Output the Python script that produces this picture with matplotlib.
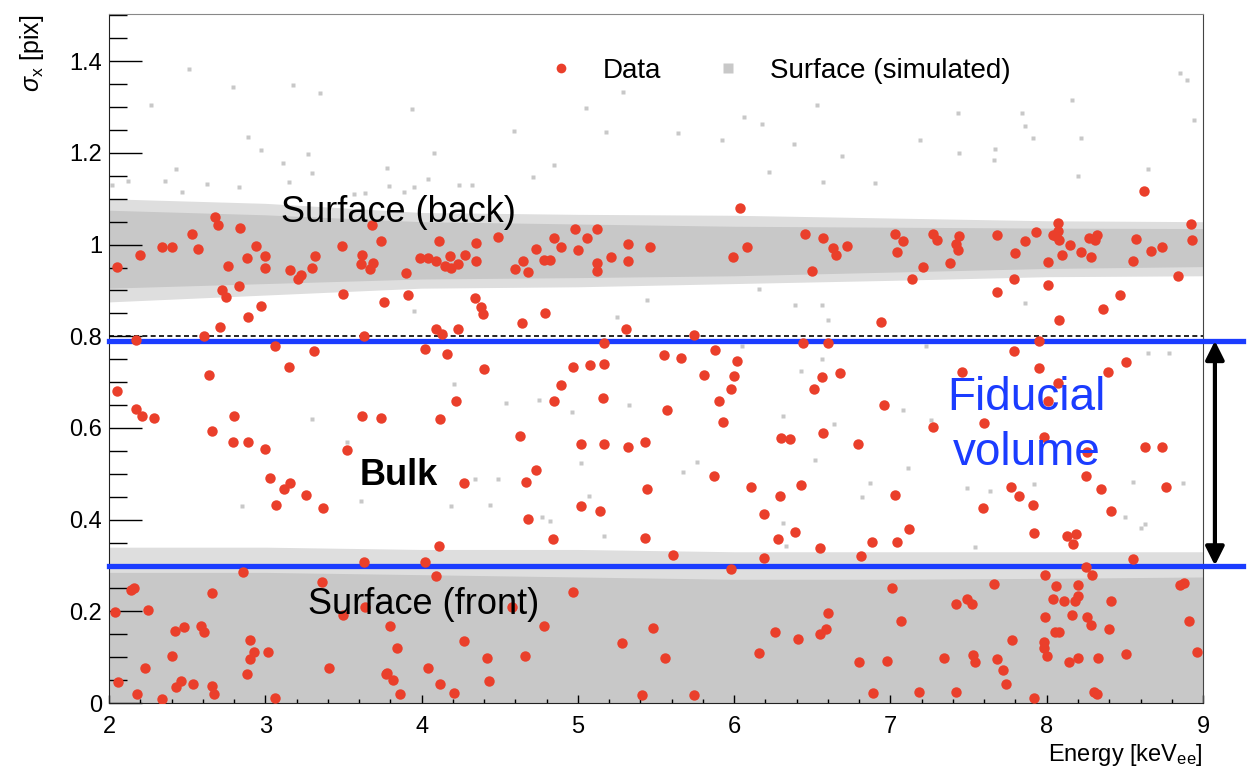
import matplotlib
matplotlib.use('Agg')
import matplotlib.pyplot as plt
from matplotlib.ticker import MultipleLocator
import numpy as np

plt.rcParams['font.family'] = ['Liberation Sans', 'DejaVu Sans']
plt.rcParams['mathtext.fontset'] = 'custom'
plt.rcParams['mathtext.rm'] = 'Liberation Sans'
plt.rcParams['mathtext.it'] = 'Liberation Sans:italic'

# red points: measured clusters (energy keV_ee, sigma_x pix)
data_E = [
    2.05, 2.20, 2.34, 2.40, 2.53, 2.68, 2.70, 2.84, 2.57, 2.94, 3.00, 2.88, 2.76, 3.00, 3.16, 3.21, 3.23,
    3.30, 3.32, 3.49, 3.62, 3.61, 3.69, 3.67, 3.68, 3.74, 3.76, 3.50, 2.83, 2.72, 2.75, 2.97, 2.89, 2.71,
    2.61, 2.17, 3.63, 3.06, 3.31, 3.15, 2.64, 2.05, 2.17, 2.21, 2.29, 2.80, 2.66, 3.62, 3.74,
    2.79, 2.89, 3.00, 3.52, 3.03, 3.12, 3.16, 3.07, 3.26, 3.37, 3.63, 2.86, 2.14, 2.16, 2.66, 3.36, 2.04,
    2.25, 3.50, 3.64, 2.42, 2.48, 2.59, 2.61, 2.90, 2.93, 2.90, 3.02, 2.40, 2.23, 3.41, 2.88, 3.77, 2.06,
    2.46, 2.43, 2.54, 2.66, 2.67, 2.18, 2.34, 3.06,
    3.90, 3.99, 4.04, 4.09, 4.11, 4.15, 4.18, 4.19, 4.23, 4.28, 4.35, 4.35, 4.49, 4.60, 4.65, 4.68, 4.73,
    4.78, 4.82, 4.85, 4.89, 4.98, 5.00, 5.06, 5.12, 5.12, 5.12, 5.21, 5.32, 5.32, 5.46, 3.91, 4.34, 4.38,
    4.39, 4.79, 4.64, 4.09, 4.13, 4.23, 5.31, 5.17, 4.02, 4.16, 4.40, 4.97, 5.08, 5.17, 5.55, 4.89, 4.85,
    5.16, 4.22, 5.57, 4.12, 4.63, 5.02, 5.17, 5.32, 5.43,
    4.73, 4.67, 4.27, 5.44, 5.02, 5.14, 4.68, 4.84, 5.43, 4.11, 4.02, 4.09, 4.97, 4.58, 3.80, 4.78, 5.48,
    4.27, 5.28, 3.84, 4.42, 4.66, 5.56, 4.04, 3.78, 3.82, 4.12, 4.43, 3.86, 4.21, 5.41,
    6.04, 5.99, 6.08, 6.45, 6.57, 6.63, 6.65, 6.72, 6.50, 7.03, 7.08, 7.04, 7.27, 7.30, 7.21, 7.14, 7.38,
    6.94, 5.74, 6.44, 6.60, 5.66, 5.88, 6.02, 5.81, 6.00, 5.98, 6.56, 6.68, 6.51, 5.90, 5.93, 6.96, 7.27,
    6.30, 6.36, 6.57, 6.79,
    5.87, 6.11, 6.29, 6.43, 6.19, 6.39, 6.28, 6.55, 7.03, 7.12, 6.88, 7.04, 6.81, 5.61, 6.19, 5.98, 7.01,
    6.60, 7.07, 6.26, 6.41, 6.55, 6.59, 6.16, 6.80, 6.98, 7.34, 5.74, 6.89, 7.18,
    7.44, 7.42, 7.43, 7.68, 7.80, 7.86, 7.93, 8.01, 8.07, 8.07, 8.04, 8.08, 8.06, 8.10, 8.15, 8.22, 8.27,
    8.31, 8.32, 8.28, 8.55, 8.57, 8.67, 8.74, 8.92, 8.93, 8.84, 8.62, 7.79, 7.68, 8.01, 8.47, 8.36, 8.08,
    7.95, 7.79, 7.95, 8.51, 8.39, 7.46, 8.07, 8.01, 7.60, 7.98, 8.63, 8.74,
    8.26, 8.25, 8.35, 8.76, 8.41, 7.77, 7.82, 7.59, 7.91, 7.92, 8.13, 8.19, 8.17, 8.55, 7.99, 8.25, 8.29,
    7.66, 8.06, 8.20, 8.85, 8.88, 7.42, 7.49, 7.52, 8.04, 8.11, 8.18, 8.20, 8.41, 8.16, 7.99, 8.26, 8.28,
    8.91, 8.05, 8.08, 8.40, 7.78, 7.98, 7.98, 8.00, 8.96, 7.53, 7.54, 7.68, 7.72, 7.74, 8.14, 8.20, 8.33,
    8.51, 7.42, 7.92, 8.30, 8.32,
]
data_sigma = [
    0.951, 0.978, 0.995, 0.995, 1.023, 1.060, 1.043, 1.037, 0.991, 0.998, 0.975, 0.970, 0.953, 0.950, 0.945, 0.925, 0.933,
    0.950, 0.975, 0.998, 0.977, 0.957, 0.960, 0.947, 1.042, 1.007, 0.875, 0.892, 0.909, 0.901, 0.886, 0.865, 0.842, 0.820,
    0.801, 0.793, 0.801, 0.778, 0.767, 0.733, 0.716, 0.680, 0.641, 0.627, 0.622, 0.627, 0.594, 0.627, 0.622,
    0.569, 0.569, 0.554, 0.552, 0.491, 0.467, 0.480, 0.433, 0.454, 0.426, 0.307, 0.286, 0.246, 0.251, 0.241, 0.263, 0.199,
    0.202, 0.192, 0.209, 0.157, 0.165, 0.169, 0.154, 0.137, 0.112, 0.096, 0.112, 0.103, 0.076, 0.076, 0.064, 0.064, 0.045,
    0.049, 0.034, 0.041, 0.038, 0.020, 0.020, 0.009, 0.012,
    0.939, 0.970, 0.970, 0.964, 1.007, 0.953, 0.976, 0.949, 0.957, 0.978, 1.004, 0.965, 1.017, 0.946, 0.965, 0.940, 0.991,
    0.966, 0.967, 1.015, 0.995, 1.034, 0.988, 1.014, 1.034, 0.960, 0.942, 0.973, 1.001, 0.965, 0.995, 0.890, 0.884, 0.864,
    0.848, 0.850, 0.828, 0.815, 0.804, 0.815, 0.815, 0.786, 0.772, 0.762, 0.728, 0.733, 0.737, 0.739, 0.759, 0.694, 0.658,
    0.665, 0.658, 0.640, 0.620, 0.583, 0.565, 0.565, 0.558, 0.569,
    0.509, 0.482, 0.480, 0.467, 0.429, 0.419, 0.402, 0.357, 0.360, 0.343, 0.308, 0.277, 0.243, 0.210, 0.167, 0.167, 0.164,
    0.135, 0.132, 0.120, 0.098, 0.103, 0.098, 0.076, 0.065, 0.051, 0.042, 0.049, 0.020, 0.022, 0.017,
    1.079, 0.972, 0.995, 1.023, 1.014, 0.993, 0.977, 0.998, 0.942, 1.023, 1.007, 0.984, 1.023, 1.011, 0.951, 0.926, 0.960,
    0.831, 0.802, 0.786, 0.786, 0.752, 0.770, 0.746, 0.716, 0.714, 0.686, 0.712, 0.720, 0.686, 0.658, 0.614, 0.650, 0.603,
    0.578, 0.575, 0.588, 0.564,
    0.496, 0.471, 0.452, 0.475, 0.413, 0.373, 0.357, 0.338, 0.454, 0.379, 0.352, 0.352, 0.321, 0.324, 0.317, 0.292, 0.252,
    0.196, 0.179, 0.154, 0.140, 0.151, 0.162, 0.109, 0.089, 0.092, 0.098, 0.018, 0.022, 0.025,
    1.018, 1.002, 0.989, 1.020, 0.982, 1.007, 1.027, 0.962, 1.047, 1.029, 1.022, 1.009, 1.018, 0.978, 1.000, 0.984, 1.015,
    1.011, 1.020, 0.972, 0.965, 1.012, 0.987, 0.995, 1.046, 1.009, 0.931, 1.118, 0.926, 0.897, 0.911, 0.889, 0.859, 0.835,
    0.790, 0.767, 0.730, 0.744, 0.723, 0.723, 0.698, 0.659, 0.611, 0.580, 0.559, 0.559,
    0.547, 0.496, 0.467, 0.471, 0.418, 0.471, 0.452, 0.426, 0.433, 0.371, 0.365, 0.368, 0.346, 0.314, 0.279, 0.297, 0.279,
    0.259, 0.255, 0.257, 0.257, 0.262, 0.216, 0.226, 0.216, 0.228, 0.223, 0.223, 0.233, 0.223, 0.193, 0.187, 0.188, 0.170,
    0.179, 0.156, 0.156, 0.162, 0.138, 0.133, 0.120, 0.102, 0.112, 0.104, 0.089, 0.096, 0.072, 0.042, 0.089, 0.098, 0.098,
    0.107, 0.025, 0.012, 0.025, 0.020,
]

# simulated surface events: dense band edges
band_E = [2, 3, 4, 5, 6, 7, 8, 9]
back_core_top = [1.075, 1.065, 1.050, 1.045, 1.040, 1.038, 1.036, 1.035]
back_core_bot = [0.905, 0.915, 0.925, 0.928, 0.932, 0.940, 0.948, 0.952]
back_edge_top = [1.100, 1.090, 1.070, 1.066, 1.064, 1.058, 1.052, 1.050]
back_edge_bot = [0.875, 0.890, 0.905, 0.908, 0.915, 0.922, 0.930, 0.932]
front_core_top = [0.285, 0.285, 0.280, 0.275, 0.270, 0.270, 0.272, 0.275]
front_edge_top = [0.340, 0.340, 0.335, 0.335, 0.330, 0.330, 0.330, 0.330]

# sparse simulated events outside the bands
sim_E = [
    2.51, 2.27, 2.79, 2.89, 2.43, 2.36, 2.12, 2.63, 2.47, 2.83, 2.02, 3.18, 3.35, 3.94, 4.59, 2.97, 3.27, 3.11,
    4.08, 3.30, 3.15, 3.78, 3.79, 4.04, 3.95, 4.24, 4.32, 4.71, 3.57, 3.64, 3.89, 5.29, 5.05, 5.18, 4.85, 5.64,
    5.92, 6.06, 6.18, 6.53, 6.38, 6.69, 7.19, 7.43, 7.44, 7.67, 7.84, 7.86, 7.91, 8.16, 8.22, 8.85, 8.90, 8.94,
    6.22, 6.57, 6.90, 7.66, 8.20, 8.65,
    2.85, 3.61, 3.30, 3.52, 4.21, 4.54, 4.75, 4.96, 5.33, 3.95, 5.44, 5.25, 4.34, 4.49, 4.19, 4.44, 5.02, 5.07,
    4.77, 4.82, 5.17, 6.16, 6.39, 6.56, 6.60, 6.05, 6.56, 6.43, 6.31, 6.64, 7.08, 7.26, 7.23, 5.76, 5.67, 6.52,
    6.87, 6.82, 7.11, 6.31, 6.33, 7.86, 8.65, 8.78, 7.49, 7.64, 7.92, 8.55, 8.87, 8.50, 8.60, 8.63, 7.54,
]
sim_sigma = [
    1.383, 1.304, 1.343, 1.235, 1.165, 1.138, 1.138, 1.133, 1.114, 1.125, 1.130, 1.349, 1.330, 1.296, 1.248, 1.206, 1.197, 1.178,
    1.200, 1.157, 1.137, 1.168, 1.128, 1.144, 1.125, 1.131, 1.131, 1.148, 1.110, 1.112, 1.114, 1.332, 1.297, 1.246, 1.173, 1.243,
    1.229, 1.279, 1.264, 1.305, 1.220, 1.193, 1.229, 1.287, 1.200, 1.208, 1.288, 1.258, 1.232, 1.315, 1.232, 1.375, 1.360, 1.272,
    1.159, 1.137, 1.135, 1.184, 1.150, 1.165,
    0.430, 0.441, 0.619, 0.569, 0.696, 0.654, 0.661, 0.634, 0.650, 0.855, 0.879, 0.841, 0.488, 0.488, 0.430, 0.433, 0.524, 0.451,
    0.406, 0.397, 0.365, 0.904, 0.868, 0.868, 0.835, 0.779, 0.750, 0.725, 0.627, 0.608, 0.639, 0.617, 0.779, 0.526, 0.504, 0.530,
    0.481, 0.449, 0.513, 0.393, 0.342, 0.872, 0.763, 0.764, 0.470, 0.462, 0.477, 0.483, 0.479, 0.406, 0.381, 0.390, 0.340,
]

cut_levels = [0.30, 0.79]
ref_level = 0.80
y_ticks = [0, 0.2, 0.4, 0.6, 0.8, 1.0, 1.2, 1.4]
y_labels = ['0', '0.2', '0.4', '0.6', '0.8', '1', '1.2', '1.4']
x_ticks = [2, 3, 4, 5, 6, 7, 8, 9]

gray = '#c8c8c8'
red = '#ea3f2b'
blue = '#1b3cff'

fig = plt.figure(figsize=(12.49, 7.66), dpi=100)
ax = fig.add_axes([0.0873, 0.0822, 0.8759, 0.8995])

# surface bands
ax.fill_between(band_E, back_edge_bot, back_edge_top, color='#dedede', lw=0, zorder=1)
ax.fill_between(band_E, back_core_bot, back_core_top, color=gray, lw=0, zorder=1)
ax.fill_between(band_E, 0, front_edge_top, color='#dedede', lw=0, zorder=1)
ax.fill_between(band_E, 0, front_core_top, color=gray, lw=0, zorder=1)
sim, = ax.plot(sim_E, sim_sigma, 's', ms=2.5, color=gray, mec='none', zorder=2,
               label='Surface (simulated)')

ax.axhline(ref_level, color='black', lw=1.2, ls=(0, (3, 2)), zorder=3)
for lvl in cut_levels:
    ax.plot([2, 9.255], [lvl, lvl], color=blue, lw=3.8, clip_on=False, zorder=4)

pts, = ax.plot(data_E, data_sigma, 'o', ms=7.5, color=red, mec='none', zorder=5, label='Data')

ax.annotate('', xy=(9.076, cut_levels[0]), xytext=(9.076, cut_levels[1]),
            arrowprops=dict(arrowstyle='<|-|>', color='black', lw=3, mutation_scale=28,
                            shrinkA=0, shrinkB=0),
            annotation_clip=False, zorder=6)

ax.text(3.85, 1.069, 'Surface (back)', fontsize=26, ha='center', va='center', zorder=6)
ax.text(3.855, 0.497, 'Bulk', fontsize=26, fontweight='bold', ha='center', va='center', zorder=6)
ax.text(4.015, 0.214, 'Surface (front)', fontsize=26, ha='center', va='center', zorder=6)
ax.text(7.873, 0.665, 'Fiducial', fontsize=33, color=blue, ha='center', va='center', zorder=6)
ax.text(7.873, 0.545, 'volume', fontsize=33, color=blue, ha='center', va='center', zorder=6)

leg = ax.legend(handles=[pts, sim], loc='center left', bbox_to_anchor=(0.378, 0.917), ncol=2,
                frameon=False, fontsize=20, handlelength=1.0, handletextpad=1.0,
                columnspacing=1.9)
leg.legend_handles[0].set_markersize(7)
leg.legend_handles[1].set_markersize(7)

ax.set_xlim(2, 9)
ax.set_ylim(0, 1.503)
ax.set_xticks(x_ticks)
ax.set_yticks(y_ticks)
ax.set_yticklabels(y_labels)
ax.xaxis.set_minor_locator(MultipleLocator(0.2))
ax.yaxis.set_minor_locator(MultipleLocator(0.05))
ax.tick_params(axis='both', which='both', direction='in', labelsize=17, width=1)
ax.tick_params(axis='y', which='major', length=24, pad=5)
ax.tick_params(axis='y', which='minor', length=13)
ax.tick_params(axis='x', which='major', length=6, pad=9)
ax.tick_params(axis='x', which='minor', length=3)

for side in ['left', 'bottom']:
    ax.spines[side].set_color('#222222')
ax.spines['top'].set_color('#888888')
ax.spines['right'].set_color('#444444')

ax.set_xlabel('Energy [keV$_{\\mathrm{ee}}$]', fontsize=17, loc='right')
ax.xaxis.set_label_coords(1.0, -0.056)
ax.set_ylabel('$\\sigma_{\\mathrm{x}}$ [pix]', fontsize=18, loc='top')
ax.yaxis.set_label_coords(-0.058, 1.0)

fig.savefig('out.png', dpi=100)
